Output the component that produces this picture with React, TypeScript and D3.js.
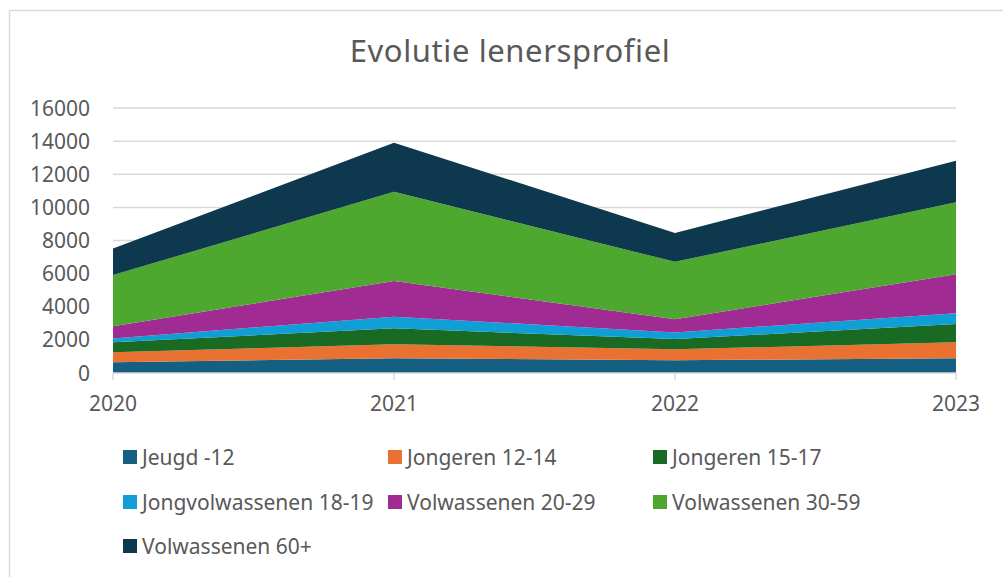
import React, { useEffect, useRef } from 'react'
import * as d3 from 'd3'

const years = ['2020', '2021', '2022', '2023']
const seriesNames = [
  'Jeugd -12',
  'Jongeren 12-14',
  'Jongeren 15-17',
  'Jongvolwassenen 18-19',
  'Volwassenen 20-29',
  'Volwassenen 30-59',
  'Volwassenen 60+'
]
const jeugd = [650, 890, 770, 890]
const jongeren1214 = [600, 845, 660, 965]
const jongeren1517 = [600, 965, 620, 1105]
const jongvolw1819 = [240, 700, 400, 645]
const volw2029 = [740, 2155, 800, 2355]
const volw3059 = [3080, 5390, 3460, 4350]
const volw60 = [1610, 2960, 1750, 2510]
const yTicks = [0, 2000, 4000, 6000, 8000, 10000, 12000, 14000, 16000]

const colors = ['#156082', '#E97132', '#196B24', '#0F9ED5', '#A02B93', '#4EA72E', '#0E384D']

const W = 1003
const H = 577
const FONT = '"Noto Sans", "Open Sans", sans-serif'

export default function App() {
  const svgRef = useRef<SVGSVGElement>(null)

  useEffect(() => {
    if (!svgRef.current) return
    const svg = d3.select(svgRef.current)
    svg.selectAll('*').remove()

    const values = [jeugd, jongeren1214, jongeren1517, jongvolw1819, volw2029, volw3059, volw60]
    const rows = years.map((y, i) => {
      const r: any = { year: y }
      seriesNames.forEach((s, k) => { r[s] = values[k][i] })
      return r
    })

    const x = d3.scalePoint<string>().domain(years).range([113, 956])
    const y = d3.scaleLinear().domain([0, 16000]).range([373, 108])

    // chart frame
    svg.append('rect')
      .attr('x', 9.5).attr('y', 10.5)
      .attr('width', W + 20).attr('height', H + 20)
      .attr('fill', '#fff').attr('stroke', '#d9d9d9').attr('stroke-width', 1.5)

    // title
    svg.append('text')
      .attr('x', 510).attr('y', 62)
      .attr('text-anchor', 'middle')
      .style('font-family', FONT).style('font-size', '31px')
      .style('letter-spacing', '0.6px')
      .style('fill', '#595959')
      .text('Evolutie lenersprofiel')

    // grid
    svg.append('g')
      .selectAll('line')
      .data(yTicks.slice(1))
      .enter().append('line')
      .attr('x1', 113).attr('x2', 956)
      .attr('y1', d => y(d)).attr('y2', d => y(d))
      .style('stroke', '#d9d9d9').style('stroke-width', 1.5)

    const stack = d3.stack<any>().keys(seriesNames)
    const stacked = stack(rows)
    const area = d3.area<any>()
      .x(d => x(d.data.year)!)
      .y0(d => y(d[0]))
      .y1(d => y(d[1]))

    stacked.forEach((s, i) => {
      svg.append('path').datum(s).attr('d', area).style('fill', colors[i])
    })

    // x axis
    const xAxis = svg.append('g').attr('transform', `translate(0,${y(0)})`)
    xAxis.append('line')
      .attr('x1', 113).attr('x2', 956)
      .style('stroke', '#d9d9d9').style('stroke-width', 1.5)
    xAxis.selectAll('.tk')
      .data(years).enter().append('line')
      .attr('x1', d => x(d)!).attr('x2', d => x(d)!)
      .attr('y1', 0).attr('y2', 7)
      .style('stroke', '#d9d9d9').style('stroke-width', 1.5)
    xAxis.selectAll('text')
      .data(years).enter().append('text')
      .attr('x', d => x(d)!).attr('y', 38)
      .attr('text-anchor', 'middle')
      .style('font-family', FONT).style('font-size', '21px').style('fill', '#595959')
      .text(d => d)

    // y labels
    svg.append('g')
      .selectAll('text')
      .data(yTicks).enter().append('text')
      .attr('x', 90).attr('y', d => y(d) + 7.5)
      .attr('text-anchor', 'end')
      .style('font-family', FONT).style('font-size', '21px').style('fill', '#595959')
      .text(d => String(d))

    // legend
    const colX = [123, 388, 653]
    const rowY = [457, 502, 546]
    const leg = svg.append('g')
    seriesNames.forEach((name, i) => {
      const cx = colX[i % 3]
      const cy = rowY[Math.floor(i / 3)]
      leg.append('rect')
        .attr('x', cx).attr('y', cy - 7).attr('width', 14).attr('height', 14)
        .style('fill', colors[i])
      leg.append('text')
        .attr('x', cx + 19).attr('y', cy + 7.5)
        .style('font-family', FONT).style('font-size', '21px').style('fill', '#595959')
        .text(name)
    })
  }, [])

  return (
    <svg
      ref={svgRef}
      width={W}
      height={H}
      style={{ position: 'absolute', left: 0, top: 0, background: '#fff' }}
    />
  )
}
